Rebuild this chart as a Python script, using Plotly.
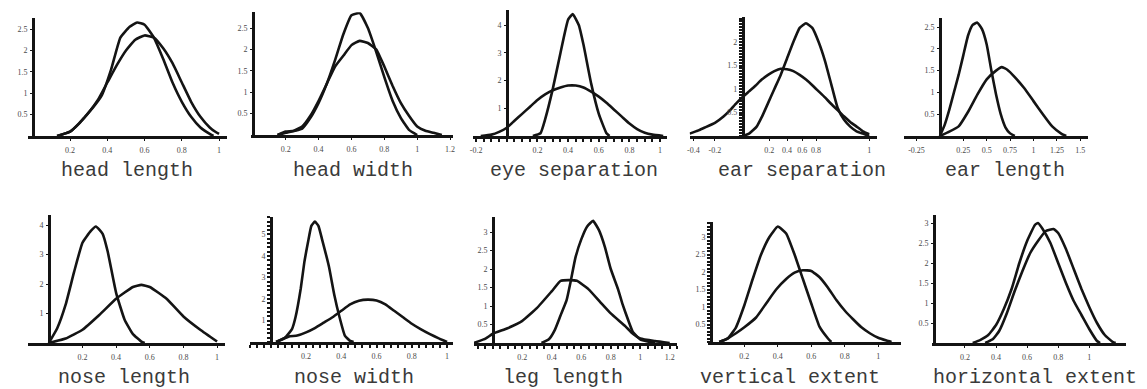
import plotly.graph_objects as go

W, H = 1147, 389

# ---------------- data ----------------
titles = ["head length", "head width", "eye separation", "ear separation", "ear length",
          "nose length", "nose width", "leg length", "vertical extent", "horizontal extent"]

head_length_a_x = [0.13, 0.2, 0.25, 0.28, 0.32, 0.37, 0.42, 0.47, 0.52, 0.56, 0.6, 0.65, 0.7, 0.75, 0.8, 0.85, 0.9, 0.95, 0.97]
head_length_a_y = [0, 0.1, 0.3, 0.45, 0.65, 0.95, 1.55, 2.3, 2.55, 2.65, 2.6, 2.3, 1.8, 1.25, 0.8, 0.45, 0.2, 0.05, 0]
head_length_b_x = [0.13, 0.2, 0.25, 0.3, 0.35, 0.4, 0.45, 0.5, 0.55, 0.6, 0.65, 0.7, 0.75, 0.8, 0.85, 0.9, 0.95, 0.98, 1.0]
head_length_b_y = [0, 0.1, 0.3, 0.55, 0.85, 1.25, 1.65, 2.0, 2.25, 2.35, 2.3, 2.05, 1.7, 1.25, 0.8, 0.45, 0.2, 0.1, 0.05]

head_width_a_x = [0.15, 0.2, 0.3, 0.35, 0.4, 0.45, 0.5, 0.55, 0.6, 0.65, 0.7, 0.75, 0.8, 0.85, 0.9, 0.95, 1.0]
head_width_a_y = [0, 0.05, 0.15, 0.4, 0.75, 1.2, 1.75, 2.35, 2.8, 2.85, 2.5, 1.95, 1.35, 0.8, 0.4, 0.12, 0]
head_width_b_x = [0.15, 0.2, 0.25, 0.3, 0.35, 0.4, 0.45, 0.5, 0.55, 0.6, 0.65, 0.7, 0.75, 0.8, 0.85, 0.9, 0.95, 1.0, 1.05, 1.1, 1.15]
head_width_b_y = [0, 0.08, 0.1, 0.2, 0.45, 0.8, 1.2, 1.6, 1.85, 2.1, 2.2, 2.15, 2.0, 1.6, 1.15, 0.75, 0.45, 0.2, 0.1, 0.05, 0]

eye_sep_a_x = [0.17, 0.22, 0.25, 0.3, 0.35, 0.4, 0.43, 0.47, 0.5, 0.55, 0.6, 0.65, 0.67]
eye_sep_a_y = [0, 0.1, 0.6, 1.7, 3.0, 4.2, 4.4, 4.0, 3.3, 1.9, 0.8, 0.1, 0]
eye_sep_b_x = [-0.17, -0.1, -0.05, 0, 0.05, 0.1, 0.15, 0.2, 0.25, 0.3, 0.35, 0.4, 0.45, 0.5, 0.55, 0.6, 0.65, 0.7, 0.75, 0.8, 0.85, 0.9, 0.95, 1.02]
eye_sep_b_y = [0, 0.05, 0.15, 0.3, 0.55, 0.8, 1.05, 1.3, 1.5, 1.65, 1.75, 1.82, 1.82, 1.75, 1.6, 1.42, 1.2, 0.95, 0.7, 0.45, 0.25, 0.12, 0.05, 0]

ear_sep_a_x = [0, 0.05, 0.11, 0.15, 0.2, 0.25, 0.3, 0.35, 0.4, 0.45, 0.5, 0.55, 0.6, 0.65, 0.7, 0.75, 0.8, 0.85, 0.9, 0.95, 1.0]
ear_sep_a_y = [0, 0.05, 0.2, 0.4, 0.7, 1.0, 1.3, 1.65, 2.0, 2.3, 2.4, 2.3, 2.0, 1.6, 1.1, 0.6, 0.35, 0.2, 0.1, 0.05, 0]
ear_sep_b_x = [-0.42, -0.35, -0.3, -0.22, -0.15, -0.1, -0.05, 0, 0.05, 0.1, 0.15, 0.2, 0.25, 0.3, 0.35, 0.4, 0.45, 0.5, 0.55, 0.6, 0.65, 0.7, 0.75, 0.8, 0.85, 0.9, 0.95, 1.0]
ear_sep_b_y = [0.05, 0.12, 0.18, 0.28, 0.42, 0.55, 0.7, 0.83, 0.95, 1.07, 1.2, 1.3, 1.38, 1.43, 1.42, 1.38, 1.3, 1.2, 1.08, 0.95, 0.82, 0.68, 0.55, 0.42, 0.3, 0.2, 0.1, 0.04]

ear_len_a_x = [0, 0.05, 0.1, 0.15, 0.2, 0.25, 0.3, 0.35, 0.4, 0.45, 0.5, 0.55, 0.6, 0.65, 0.7, 0.75, 0.8]
ear_len_a_y = [0, 0.25, 0.6, 1.0, 1.4, 1.85, 2.3, 2.55, 2.6, 2.45, 2.1, 1.5, 0.95, 0.5, 0.2, 0.06, 0]
ear_len_b_x = [0, 0.1, 0.2, 0.3, 0.4, 0.5, 0.6, 0.66, 0.72, 0.8, 0.9, 1.0, 1.1, 1.2, 1.3, 1.35]
ear_len_b_y = [0, 0.1, 0.22, 0.55, 0.95, 1.3, 1.5, 1.58, 1.52, 1.35, 1.1, 0.8, 0.5, 0.22, 0.05, 0]

nose_len_a_x = [0, 0.05, 0.1, 0.15, 0.2, 0.25, 0.28, 0.32, 0.35, 0.4, 0.45, 0.5, 0.55, 0.57]
nose_len_a_y = [0, 0.5, 1.3, 2.4, 3.4, 3.8, 3.95, 3.7, 3.1, 1.7, 0.8, 0.3, 0.05, 0]
nose_len_b_x = [0, 0.1, 0.2, 0.3, 0.4, 0.5, 0.55, 0.6, 0.7, 0.8, 0.9, 1.0]
nose_len_b_y = [0, 0.15, 0.45, 0.95, 1.5, 1.9, 1.97, 1.9, 1.5, 0.9, 0.45, 0.05]

nose_wid_a_x = [0.03, 0.08, 0.12, 0.14, 0.17, 0.19, 0.21, 0.23, 0.25, 0.27, 0.29, 0.33, 0.36, 0.39, 0.42, 0.45, 0.47]
nose_wid_a_y = [0, 0.2, 0.6, 1.15, 2.5, 3.7, 4.6, 5.4, 5.6, 5.4, 4.8, 3.5, 2.2, 1.15, 0.3, 0.05, 0]
nose_wid_b_x = [0.03, 0.1, 0.15, 0.2, 0.25, 0.3, 0.35, 0.4, 0.45, 0.5, 0.55, 0.6, 0.65, 0.7, 0.75, 0.8, 0.85, 0.9, 0.95, 1.0]
nose_wid_b_y = [0, 0.25, 0.3, 0.45, 0.65, 0.9, 1.15, 1.45, 1.75, 1.92, 1.97, 1.93, 1.75, 1.45, 1.15, 0.85, 0.6, 0.38, 0.18, 0]

leg_len_a_x = [0.33, 0.38, 0.42, 0.46, 0.5, 0.53, 0.56, 0.6, 0.64, 0.68, 0.72, 0.76, 0.8, 0.85, 0.88, 0.92, 0.95, 1.0, 1.05, 1.1]
leg_len_a_y = [0, 0.1, 0.35, 0.75, 1.15, 1.7, 2.3, 2.8, 3.15, 3.3, 3.05, 2.6, 2.0, 1.45, 1.05, 0.6, 0.3, 0.1, 0.04, 0]
leg_len_b_x = [-0.13, -0.05, 0, 0.1, 0.2, 0.3, 0.4, 0.46, 0.52, 0.57, 0.65, 0.73, 0.8, 0.9, 0.95, 1.0, 1.1, 1.2]
leg_len_b_y = [0, 0.12, 0.25, 0.4, 0.6, 0.95, 1.4, 1.68, 1.7, 1.68, 1.45, 1.1, 0.8, 0.45, 0.25, 0.12, 0.05, 0]

vert_a_x = [0.05, 0.1, 0.15, 0.2, 0.25, 0.3, 0.35, 0.4, 0.45, 0.5, 0.55, 0.6, 0.65, 0.7, 0.72]
vert_a_y = [0, 0.1, 0.42, 1.05, 1.8, 2.5, 3.0, 3.3, 3.1, 2.5, 1.8, 1.1, 0.43, 0.1, 0]
vert_b_x = [0.05, 0.1, 0.15, 0.2, 0.27, 0.33, 0.39, 0.45, 0.5, 0.55, 0.6, 0.65, 0.7, 0.75, 0.8, 0.85, 0.9, 0.95, 1.0, 1.05, 1.08]
vert_b_y = [0, 0.1, 0.25, 0.42, 0.7, 1.1, 1.5, 1.8, 1.98, 2.05, 2.03, 1.85, 1.55, 1.2, 0.9, 0.65, 0.42, 0.25, 0.12, 0.04, 0]

horiz_a_x = [0.25, 0.3, 0.35, 0.4, 0.45, 0.5, 0.55, 0.6, 0.65, 0.67, 0.7, 0.75, 0.8, 0.85, 0.9, 0.95, 1.0, 1.05, 1.07]
horiz_a_y = [0, 0.08, 0.2, 0.45, 0.85, 1.35, 2.0, 2.55, 2.95, 3.0, 2.85, 2.5, 2.0, 1.5, 1.05, 0.7, 0.35, 0.05, 0]
horiz_b_x = [0.33, 0.38, 0.42, 0.47, 0.52, 0.57, 0.62, 0.67, 0.72, 0.77, 0.8, 0.85, 0.9, 0.95, 1.0, 1.05, 1.1, 1.15, 1.17]
horiz_b_y = [0, 0.1, 0.3, 0.75, 1.3, 1.8, 2.25, 2.55, 2.8, 2.85, 2.75, 2.35, 1.85, 1.35, 0.9, 0.5, 0.2, 0.03, 0]

curves = [
    [(head_length_a_x, head_length_a_y), (head_length_b_x, head_length_b_y)],
    [(head_width_a_x, head_width_a_y), (head_width_b_x, head_width_b_y)],
    [(eye_sep_a_x, eye_sep_a_y), (eye_sep_b_x, eye_sep_b_y)],
    [(ear_sep_a_x, ear_sep_a_y), (ear_sep_b_x, ear_sep_b_y)],
    [(ear_len_a_x, ear_len_a_y), (ear_len_b_x, ear_len_b_y)],
    [(nose_len_a_x, nose_len_a_y), (nose_len_b_x, nose_len_b_y)],
    [(nose_wid_a_x, nose_wid_a_y), (nose_wid_b_x, nose_wid_b_y)],
    [(leg_len_a_x, leg_len_a_y), (leg_len_b_x, leg_len_b_y)],
    [(vert_a_x, vert_a_y), (vert_b_x, vert_b_y)],
    [(horiz_a_x, horiz_a_y), (horiz_b_x, horiz_b_y)],
]

x_tick_labels = [
    ["0.2", "0.4", "0.6", "0.8", "1"],
    ["0.2", "0.4", "0.6", "0.8", "1", "1.2"],
    ["-0.2", "0.2", "0.4", "0.6", "0.8", "1"],
    ["-0.4", "-0.2", "0.2", "0.4", "0.6", "0.8", "1"],
    ["-0.25", "0.25", "0.5", "0.75", "1", "1.25", "1.5"],
    ["0.2", "0.4", "0.6", "0.8", "1"],
    ["0.2", "0.4", "0.6", "0.8", "1"],
    ["0.2", "0.4", "0.6", "0.8", "1", "1.2"],
    ["0.2", "0.4", "0.6", "0.8", "1"],
    ["0.2", "0.4", "0.6", "0.8", "1"],
]
# the ear-separation labels are printed squeezed in the original
ear_sep_label_pos = [-0.39, -0.22, 0.21, 0.35, 0.47, 0.58, 1.0]

y_tick_labels = [
    ["0.5", "1", "1.5", "2", "2.5"],
    ["0.5", "1", "1.5", "2", "2.5"],
    ["1", "2", "3", "4"],
    ["0.5", "1", "1.5", "2"],
    ["0.5", "1", "1.5", "2", "2.5"],
    ["1", "2", "3", "4"],
    ["1", "2", "3", "4", "5"],
    ["0.5", "1", "1.5", "2", "2.5", "3"],
    ["0.5", "1", "1.5", "2", "2.5", "3"],
    ["0.5", "1", "1.5", "2", "2.5", "3"],
]

# ---------------- geometry (pixels) ----------------
# origin x px, origin y px, px per x unit, px per y unit, x range, y max
geom = [
    (30, 136, 187, 42.8, (-0.027, 1.045), 2.75),
    (251, 135, 165, 42.8, (-0.01, 1.22), 2.87),
    (506, 136, 154, 27.7, (-0.22, 1.045), 4.55),
    (743, 136, 127, 47.0, (-0.42, 1.06), 2.53),
    (941, 136, 94, 43.6, (-0.38, 1.585), 2.7),
    (46, 343, 169, 29.5, (-0.124, 1.047), 4.34),
    (269, 342, 177, 21.5, (-0.12, 1.034), 5.81),
    (492, 343, 148, 37.0, (-0.128, 1.25), 3.4),
    (711, 342, 168, 35.0, (-0.018, 1.137), 3.43),
    (935, 343, 156, 40.0, (-0.013, 1.237), 3.2),
]
title_pos = [(125, 170), (352, 170), (573, 170), (802, 170), (1006, 170),
             (122, 377), (353, 377), (562, 377), (790, 377), (1037, 377)]
# dotted (densely ticked) axes: (x minor dtick, y minor dtick)
dense = [(None, None), (None, None), (0.05, None), (None, 0.0625), (None, None),
         (None, None), (0.04, 0.2), (0.05, None), (None, 0.1), (None, None)]

INK = "#141414"
LABEL = "#4a4a4a"
tick_font = dict(family="Liberation Serif", size=8, color=LABEL)

fig = go.Figure()
layout = dict(width=W, height=H, margin=dict(l=0, r=0, t=0, b=0),
              paper_bgcolor="white", plot_bgcolor="rgba(0,0,0,0)", showlegend=False,
              annotations=[])

for i in range(10):
    k = "" if i == 0 else str(i + 1)
    ox, oy, sx, sy, xr, ymax = geom[i]
    for cx, cy in curves[i]:
        fig.add_trace(go.Scatter(x=cx, y=cy, mode="lines",
                                 line=dict(color=INK, width=2.6, shape="spline", smoothing=0.4),
                                 xaxis="x" + k, yaxis="y" + k, hoverinfo="skip"))
    xdom = [(ox + xr[0] * sx) / W, (ox + xr[1] * sx) / W]
    ydom = [1 - oy / H, 1 - (oy - ymax * sy) / H]
    if i == 3:
        xvals = ear_sep_label_pos
    else:
        xvals = [float(t) for t in x_tick_labels[i]]
    yvals = [float(t) for t in y_tick_labels[i]]
    xa = dict(domain=xdom, range=list(xr), anchor="y" + k, showline=True, linecolor=INK,
              linewidth=2.6, showgrid=False, zeroline=False, tickmode="array",
              tickvals=xvals, ticktext=x_tick_labels[i], ticks="outside", ticklen=2,
              tickwidth=1, tickcolor=INK, tickfont=tick_font, ticklabelstandoff=3,
              tickangle=0)
    ya = dict(domain=ydom, range=[0, ymax], anchor="free", position=ox / W, showline=True,
              linecolor=INK, linewidth=2.6, showgrid=False, zeroline=False, tickmode="array",
              tickvals=yvals, ticktext=y_tick_labels[i], ticks="outside", ticklen=2,
              tickwidth=1, tickcolor=INK, tickfont=tick_font, ticklabelstandoff=1,
              tickangle=0)
    dx, dy = dense[i]
    if dx:
        xa["minor"] = dict(tickmode="linear", tick0=0, dtick=dx, ticks="outside",
                           ticklen=3, tickwidth=2, tickcolor=INK)
    if dy:
        ya["minor"] = dict(tickmode="linear", tick0=0, dtick=dy, ticks="outside",
                           ticklen=3, tickwidth=2, tickcolor=INK)
    layout["xaxis" + k] = xa
    layout["yaxis" + k] = ya
    tx, ty = title_pos[i]
    layout["annotations"].append(dict(text=titles[i], x=tx / W, y=1 - ty / H, xref="paper",
                                      yref="paper", showarrow=False, xanchor="center",
                                      yanchor="middle",
                                      font=dict(family="Liberation Mono", size=20, color="#3a3a3a")))

fig.update_layout(**layout)
fig.write_html("out.html")
